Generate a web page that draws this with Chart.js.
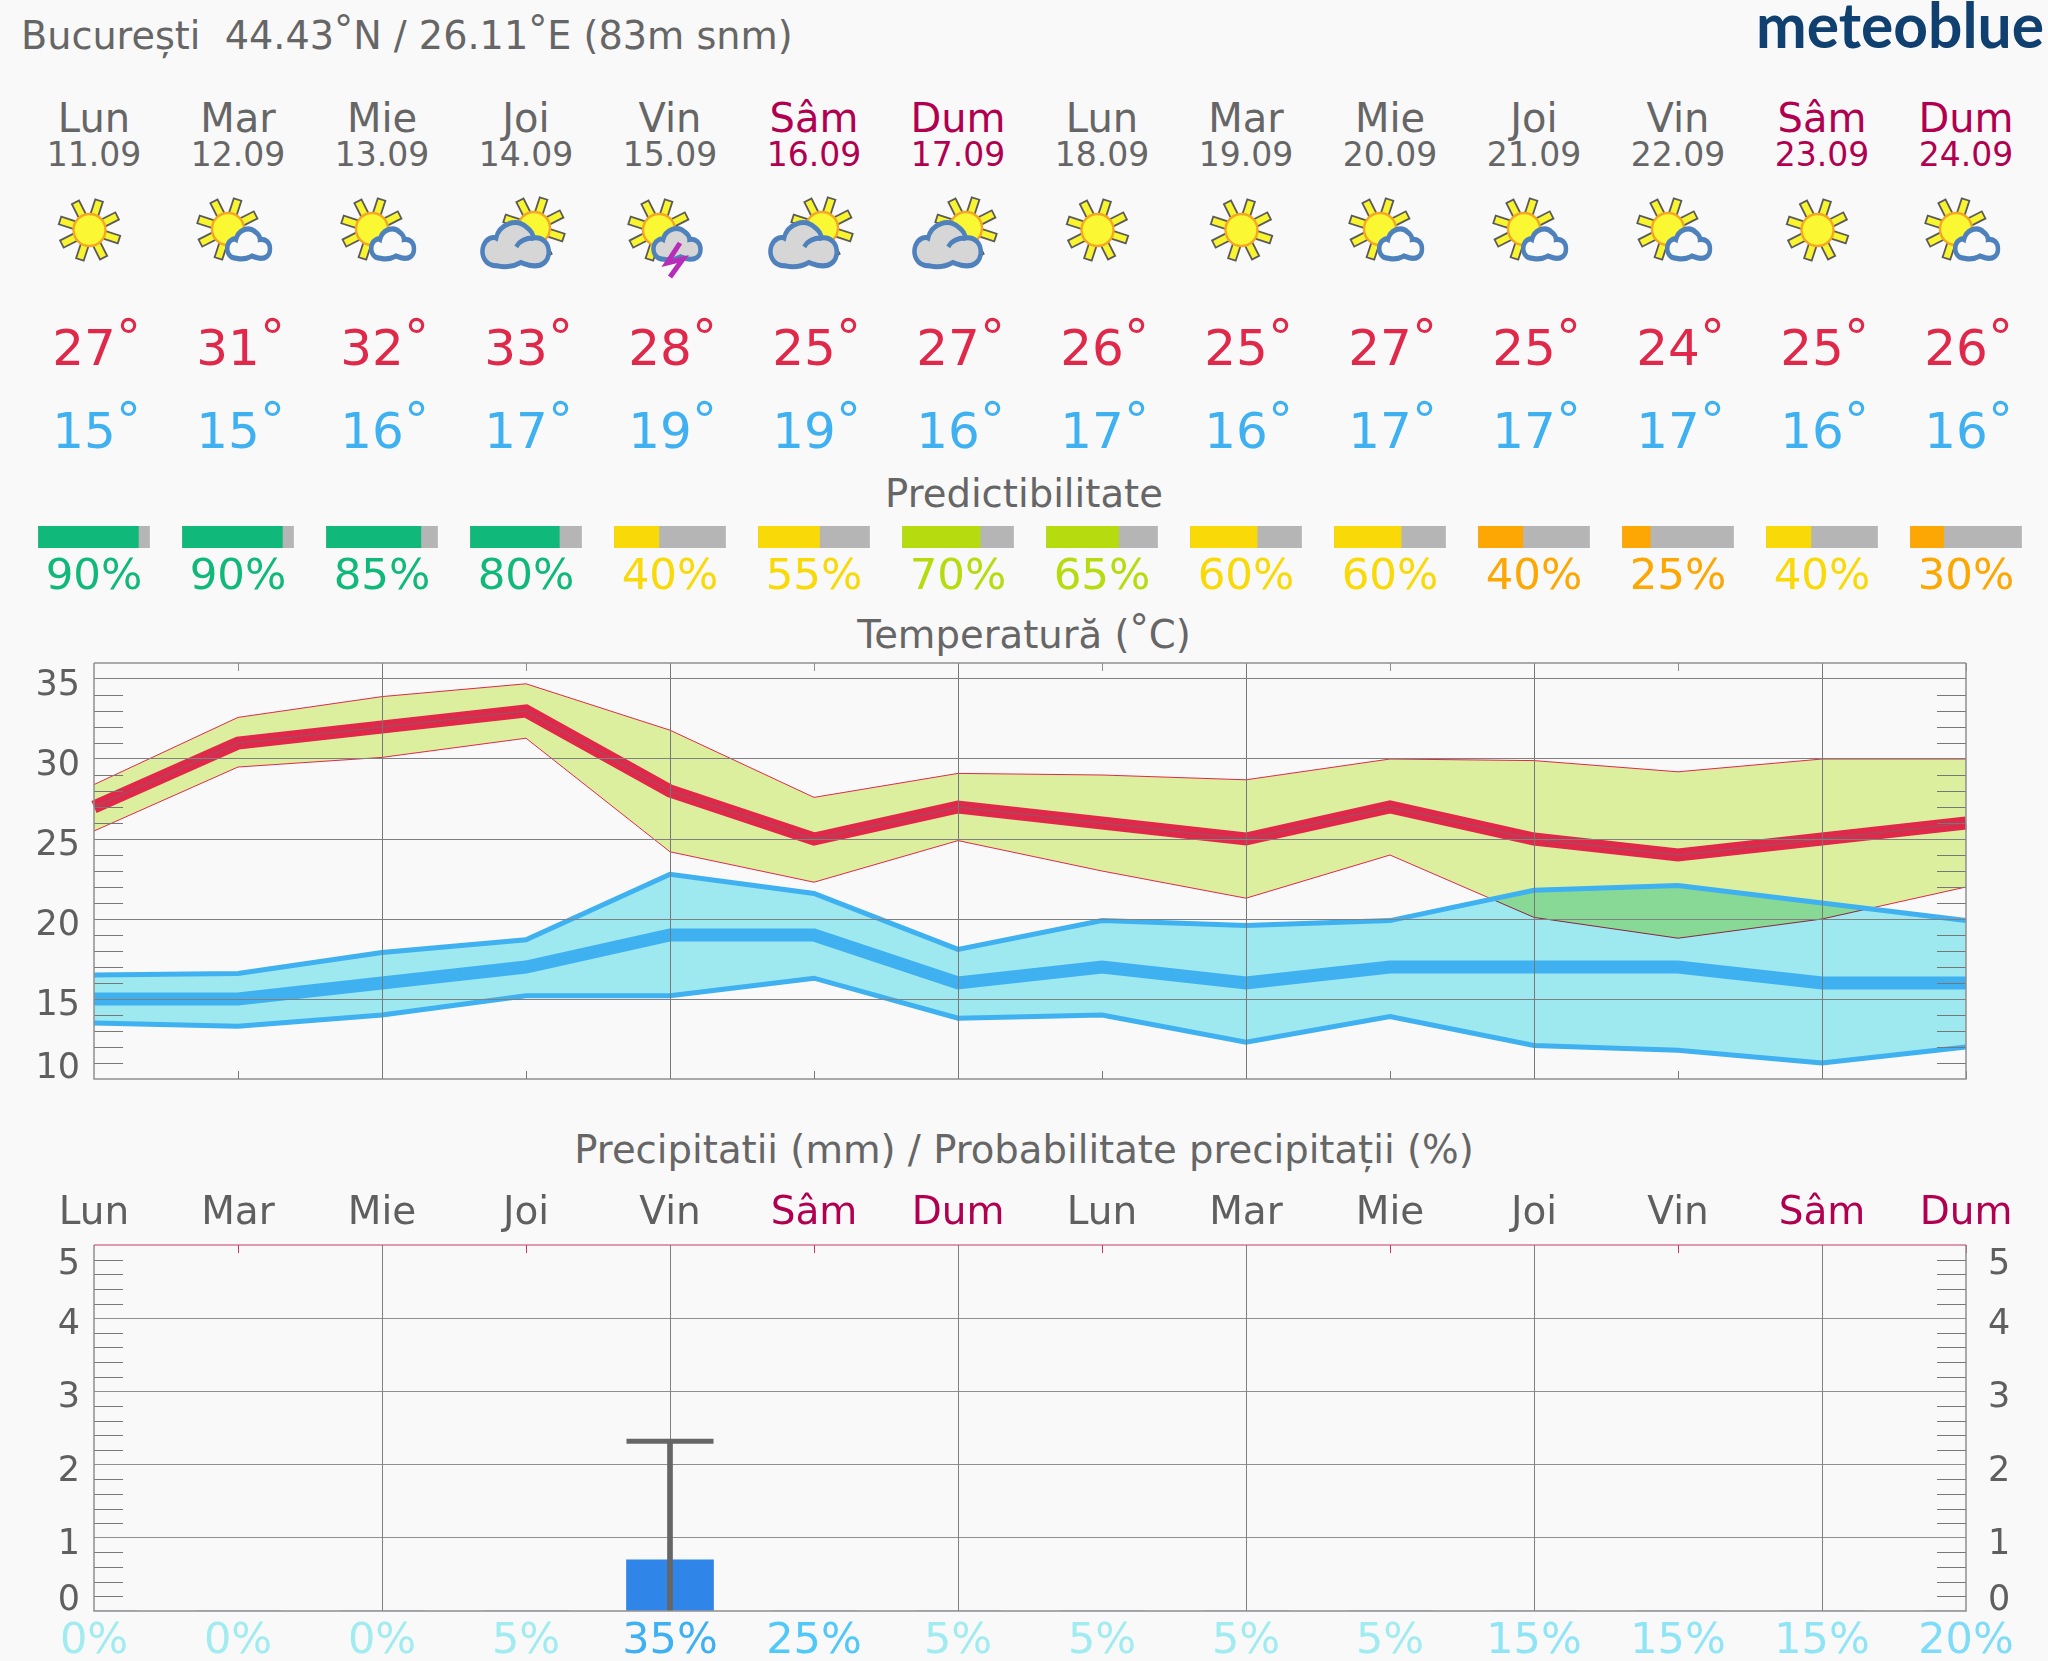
<!DOCTYPE html>
<html>
<head>
<meta charset="utf-8">
<title>București meteogram</title>
<script src="https://cdn.jsdelivr.net/npm/chart.js@4/dist/chart.umd.min.js"></script>
<style>
  html, body { margin: 0; padding: 0; background: #f9f9f9; }
  #page { position: relative; width: 2048px; height: 1661px; overflow: hidden; }
  #page svg, #page canvas { position: absolute; left: 0; }
  #page svg { top: 0; }
  text { font-family: "DejaVu Sans", sans-serif; }
</style>
</head>
<body>
<div id="page">
  <svg id="header" width="2048" height="1661"></svg>
  <canvas id="predictChart" width="2048" height="80" style="top:526px"></canvas>
  <canvas id="tempChart" width="2048" height="460" style="top:640px"></canvas>
  <canvas id="rainChart" width="2048" height="481" style="top:1180px"></canvas>
</div>

<script>
// --------------------------
// data
// --------------------------
const dayNames = ["Lun", "Mar", "Mie", "Joi", "Vin", "Sâm", "Dum", "Lun", "Mar", "Mie", "Joi", "Vin", "Sâm", "Dum"];
const dayDates = ["11.09", "12.09", "13.09", "14.09", "15.09", "16.09", "17.09", "18.09", "19.09", "20.09", "21.09", "22.09", "23.09", "24.09"];
const dayIcons = ["sun", "sunCloud", "sunCloud", "bigCloud", "storm", "bigCloud", "bigCloud", "sun", "sun", "sunCloud", "sunCloud", "sunCloud", "sun", "sunCloud"];

const tempHigh = [27, 31, 32, 33, 28, 25, 27, 26, 25, 27, 25, 24, 25, 26];
const tempLow = [15, 15, 16, 17, 19, 19, 16, 17, 16, 17, 17, 17, 16, 16];

const highUpper = [28.4, 32.6, 33.9, 34.7, 31.8, 27.6, 29.1, 29.0, 28.7, 30.0, 29.9, 29.2, 30.0, 30.0];
const highLower = [25.5, 29.5, 30.1, 31.3, 24.2, 22.3, 24.9, 23.0, 21.3, 24.0, 20.1, 18.8, 20.0, 22.0];
const lowUpper = [16.5, 16.6, 17.9, 18.7, 22.8, 21.6, 18.1, 19.9, 19.6, 19.9, 21.8, 22.1, 21.0, 19.9];
const lowLower = [13.5, 13.3, 14.0, 15.2, 15.2, 16.3, 13.8, 14.0, 12.3, 13.9, 12.1, 11.8, 11.0, 12.0];

const predictability = [90, 90, 85, 80, 40, 55, 70, 65, 60, 60, 40, 25, 40, 30];
const predictGrade = ["green", "green", "green", "green", "yellow", "yellow", "lime", "lime", "yellow", "yellow", "orange", "orange", "yellow", "orange"];

const rainAmount = [0, 0, 0, 0, 0.7, 0, 0, 0, 0, 0, 0, 0, 0, 0];
const rainMax = [null, null, null, null, 2.32, null, null, null, null, null, null, null, null, null];
const rainChance = [0, 0, 0, 5, 35, 25, 5, 5, 5, 5, 15, 15, 15, 20];

// --------------------------
// styles
// --------------------------
const GREY = "#666666";
const RED = "#e0284a";
const BLUE = "#3fb0f0";
const CRIMSON = "#b0004f";
const gradeColors = { green: "#10b97a", yellow: "#f9d908", lime: "#b6dc10", orange: "#fca704" };

const PLOT_LEFT = 94;
const COL_STEP = 144;
const RIGHT_GAP = 82;
const FONT = "'DejaVu Sans', sans-serif";

function isWeekend(i) {
  return i === 5 || i === 6 || i === 12 || i === 13;
}

function colX(i) {
  return PLOT_LEFT + COL_STEP * i;
}

function chanceColor(v) {
  if (v >= 35) return "#3fb0f2";
  if (v >= 25) return "#50c8f8";
  if (v >= 20) return "#7fdcf8";
  if (v >= 15) return "#8fe5f5";
  return "#a2ecf0";
}

// --------------------------
// header svg (text and icons)
// --------------------------
function svgText(str, x, y, size, color, anchor = "middle", extra = "") {
  return `<text x="${x}" y="${y}" font-size="${size}" fill="${color}" text-anchor="${anchor}" ${extra}>${str}</text>`;
}

function degree(dy) {
  return `<tspan dy="${dy}">°</tspan>`;
}

function sunIcon(cx, cy) {
  let rays = "";
  for (let k = 0; k < 8; k++) {
    rays += `<rect x="-4" y="-31" width="8" height="16" fill="#f8f530" stroke="#5a5a5a" stroke-width="1.8" transform="rotate(${18 + k * 45})"/>`;
  }
  return `<g transform="translate(${cx} ${cy})">${rays}<circle r="16" fill="#f9f833" stroke="#f5a623" stroke-width="2.4"/></g>`;
}

function cloudIcon(x, y, scale, fill, hook, stretch = 1.12) {
  const body = "M12 27 C3 27 1 20 3 15 C5 11 9 10 11 11 C13 3 24 -1 31 5 C34 7 35 9 35 11 C41 10 45 14 45 19 C45 25 40 27 36 27 C32 27 30 26 27 25 C23 27 17 28 12 27 Z";
  const inner = hook ? `<path d="M24 16 C26 13 30 11 35 11" fill="none" stroke="#4f82bd" stroke-width="${4.5 / scale}"/>` : "";
  return `<g transform="translate(${x} ${y}) scale(${scale} ${scale * stretch})"><path d="${body}" fill="${fill}" stroke="#4f82bd" stroke-width="${4.5 / scale}"/>${inner}</g>`;
}

function weatherIcon(kind, c) {
  if (kind === "sun") return sunIcon(c - 4.5, 230);
  if (kind === "sunCloud") return sunIcon(c - 10, 229) + cloudIcon(c - 13, 226.5, 1, "#f9f9f9", false, 1.18);
  if (kind === "bigCloud") return sunIcon(c + 8, 228) + cloudIcon(c - 47, 219, 1.55, "#d6d6d6", true);
  // storm
  const bolt = `<path d="M${c + 10} 243 L${c - 3} 263 L${c + 13} 259 L${c} 277" fill="none" stroke="#b82db8" stroke-width="5"/>`;
  return sunIcon(c - 11, 230) + cloudIcon(c - 19, 226, 1.1, "#d6d6d6", false) + bolt;
}

function drawHeader() {
  let out = "";
  out += svgText(`București&#160;&#160;44.43${degree(-6)}<tspan dy="6">N / 26.11</tspan>${degree(-6)}<tspan dy="6">E (83m snm)</tspan>`, 21, 49, 38.2, GREY, "start");
  out += `<text x="1756" y="48" font-size="63" font-weight="700" fill="#0f4070" textLength="288" lengthAdjust="spacingAndGlyphs" style="font-family:Lato,sans-serif">meteoblue</text>`;

  dayNames.forEach((name, i) => {
    const c = colX(i);
    const color = isWeekend(i) ? CRIMSON : GREY;
    out += svgText(name, c, 132, 40, color);
    out += svgText(dayDates[i], c, 166, 33, color);
    out += weatherIcon(dayIcons[i], c);
    out += svgText(`${tempHigh[i]}${degree(-10)}`, c + 2.6, 365, 50, RED);
    out += svgText(`${tempLow[i]}${degree(-10)}`, c + 2.6, 448, 50, BLUE);
  });

  out += svgText("Predictibilitate", 1024, 507, 38.6, GREY);
  out += svgText(`Temperatură (${degree(-6)}<tspan dy="6">C)</tspan>`, 1024, 648, 38.6, GREY);
  out += svgText("Precipitatii (mm) / Probabilitate precipitații (%)", 1024, 1163, 38.6, GREY);

  document.getElementById("header").innerHTML = out;
}

// --------------------------
// chart helpers
// --------------------------

// tick labels must not push the plot area in
function noScalePadding(s) {
  s.paddingTop = 0;
  s.paddingBottom = 0;
  s.paddingLeft = 0;
  s.paddingRight = 0;
}

// box, small ticks inside the plot, and the nudged y labels
function panelPlugin(cfg) {
  return {
    id: "panel",
    beforeDraw(chart) {
      Object.values(chart.scales).forEach(scale => {
        if (scale.axis !== "y") return;
        scale.getLabelItems().forEach(item => {
          item.options.translation[1] += cfg.labelShift(Number(item.label));
        });
      });
    },
    afterDatasetDraw(chart, args) {
      if (cfg.multiplyBefore === args.meta.label) chart.ctx.globalCompositeOperation = "multiply";
    },
    beforeDatasetDraw(chart) {
      // runs after the filler has painted this dataset's band
      chart.ctx.globalCompositeOperation = "source-over";
    },
    afterDraw(chart) {
      const { ctx, chartArea: a, scales } = chart;
      ctx.save();
      ctx.lineWidth = 1;
      ctx.strokeStyle = "#777777";
      ctx.beginPath();
      cfg.minorValues.forEach(v => {
        const y = Math.round(scales.y.getPixelForValue(v)) + 0.5;
        ctx.moveTo(a.left, y);
        ctx.lineTo(a.left + 29, y);
        ctx.moveTo(a.right - 29, y);
        ctx.lineTo(a.right, y);
      });
      ctx.stroke();

      ctx.beginPath();
      ctx.strokeStyle = cfg.topColor;
      dayNames.forEach((_, i) => {
        if (i % 2 === 0) return;
        const x = Math.round(scales.x.getPixelForValue(i)) + 0.5;
        ctx.moveTo(x, a.top);
        ctx.lineTo(x, a.top + 8);
      });
      ctx.stroke();

      if (cfg.bottomTicks) {
        ctx.beginPath();
        ctx.strokeStyle = "#777777";
        dayNames.forEach((_, i) => {
          if (i % 2 === 0) return;
          const x = Math.round(scales.x.getPixelForValue(i)) + 0.5;
          ctx.moveTo(x, a.bottom);
          ctx.lineTo(x, a.bottom - 8);
        });
        ctx.stroke();
      }

      // frame
      ctx.lineWidth = 1.5;
      ctx.strokeStyle = "#8f8f8f";
      ctx.beginPath();
      ctx.moveTo(a.left, a.top);
      ctx.lineTo(a.left, a.bottom);
      ctx.lineTo(a.right, a.bottom);
      ctx.lineTo(a.right, a.top);
      ctx.stroke();
      ctx.lineWidth = cfg.topWidth;
      ctx.strokeStyle = cfg.topColor;
      ctx.beginPath();
      ctx.moveTo(a.left, a.top);
      ctx.lineTo(a.right, a.top);
      ctx.stroke();
      ctx.restore();
    }
  };
}

function gridX(color, z) {
  return {
    z,
    offset: false,
    drawTicks: false,
    lineWidth: 1,
    color: c => (c.index > 0 && c.index < 13 && c.index % 2 === 0 ? color : "transparent")
  };
}

function commonOptions(padding) {
  return {
    responsive: false,
    animation: false,
    events: [],
    layout: { padding },
    plugins: { legend: { display: false }, tooltip: { enabled: false }, title: { display: false } }
  };
}

// --------------------------
// predictability bars
// --------------------------
function createPredictChart() {
  const halfBar = 55.5 / COL_STEP;
  const fullBars = predictability.map((p, i) => ({ x: [i - halfBar, i + halfBar], y: "p" }));
  const gradeBars = predictability.map((p, i) => ({ x: [i - halfBar, i - halfBar + 2 * halfBar * p / 100], y: "p" }));

  new Chart(document.getElementById("predictChart").getContext("2d"), {
    type: "bar",
    data: {
      labels: ["p"],
      datasets: [
        { data: gradeBars, backgroundColor: predictGrade.map(g => gradeColors[g]), barThickness: 22, grouped: false, order: 0 },
        { data: fullBars, backgroundColor: "#b5b5b5", barThickness: 22, grouped: false, order: 1 }
      ]
    },
    options: {
      ...commonOptions(0),
      indexAxis: "y",
      scales: {
        x: {
          type: "linear",
          min: -PLOT_LEFT / COL_STEP,
          max: 13 + RIGHT_GAP / COL_STEP,
          grid: { display: false },
          border: { display: false },
          afterFit: s => { s.height = 58; noScalePadding(s); },
          ticks: {
            stepSize: 1,
            includeBounds: false,
            autoSkip: false,
            maxRotation: 0,
            padding: -4,
            font: { family: FONT, size: 43.5 },
            color: c => gradeColors[predictGrade[c.tick.value]],
            callback: v => predictability[v] + "%"
          }
        },
        y: { display: false }
      }
    }
  });
}

// --------------------------
// temperature
// --------------------------
function createTempChart() {
  const thin = (label, data, color, width, order, fill) => ({
    label, data, order,
    borderColor: color,
    borderWidth: width,
    borderJoinStyle: "miter",
    pointRadius: 0,
    tension: 0,
    fill: fill || false
  });

  const minors = [];
  for (let v = 11; v < 36; v++) if (v % 5 !== 0) minors.push(v);

  new Chart(document.getElementById("tempChart").getContext("2d"), {
    type: "line",
    data: {
      labels: dayDates,
      datasets: [
        thin("highUpper", highUpper, RED, 1, 9, { target: 1, above: "#dbef9f", below: "#dbef9f" }),
        thin("highLower", highLower, RED, 1, 8),
        thin("lowUpper", lowUpper, BLUE, 5, 7, { target: 3, above: "#9ee8ef", below: "#9ee8ef" }),
        thin("lowLower", lowLower, BLUE, 5, 6),
        thin("lowMean", tempLow, BLUE, 13, 5),
        thin("highMean", tempHigh, RED, 13, 4),
        thin("highCore", tempHigh, "#8a5a66", 1, 3)
      ]
    },
    options: {
      ...commonOptions({ top: 23, right: RIGHT_GAP, bottom: 21 }),
      scales: {
        x: {
          offset: false,
          grid: gridX("#777777", 1),
          border: { display: false },
          afterFit: noScalePadding,
          ticks: { display: false }
        },
        y: {
          min: 10,
          max: 36,
          afterFit: s => { s.width = PLOT_LEFT; noScalePadding(s); },
          border: { display: false },
          grid: { z: 1, drawTicks: false, lineWidth: 1, color: c => (c.tick.value === 10 ? "transparent" : "#808080") },
          ticks: {
            stepSize: 5,
            includeBounds: false,
            padding: 14,
            font: { family: FONT, size: 35 },
            color: "#5f5f5f"
          }
        }
      }
    },
    plugins: [panelPlugin({
      minorValues: minors,
      topColor: "#8f8f8f",
      topWidth: 1.5,
      bottomTicks: true,
      multiplyBefore: "highLower",
      labelShift: v => (v === 10 ? -10 : 7)
    })]
  });
}

// --------------------------
// precipitation
// --------------------------
function createRainChart() {
  const minors = [];
  for (let v = 1; v < 25; v++) if (v % 5 !== 0) minors.push(v / 5);

  const rainY = {
    min: 0,
    max: 5,
    border: { display: false },
    ticks: {
      stepSize: 1,
      padding: 14,
      font: { family: FONT, size: 35 },
      color: "#5f5f5f"
    }
  };

  new Chart(document.getElementById("rainChart").getContext("2d"), {
    data: {
      labels: dayNames,
      datasets: [
        { type: "bar", data: rainAmount, backgroundColor: "#2f86e8", barThickness: 87, grouped: false, order: 3 },
        { type: "bar", data: rainMax, backgroundColor: GREY, barThickness: 5, grouped: false, order: 2 },
        {
          type: "line", data: rainMax, showLine: false, order: 1,
          pointStyle: "line", pointRadius: 43.5, pointBorderWidth: 5, pointBorderColor: GREY
        }
      ]
    },
    options: {
      ...commonOptions({ top: 0, right: 0, bottom: 0 }),
      scales: {
        x: {
          offset: false,
          position: "bottom",
          grid: gridX("#808080", 0),
          border: { display: false },
          afterFit: s => { s.height = 50; noScalePadding(s); },
          ticks: {
            autoSkip: false,
            maxRotation: 0,
            padding: 5,
            font: { family: FONT, size: 43 },
            color: c => chanceColor(rainChance[c.index]),
            callback: (v, i) => rainChance[i] + "%"
          }
        },
        xTop: {
          type: "category",
          axis: "x",
          labels: dayNames,
          offset: false,
          position: "top",
          grid: { display: false },
          border: { display: false },
          afterFit: s => { s.height = 65; noScalePadding(s); },
          ticks: {
            autoSkip: false,
            maxRotation: 0,
            padding: 0,
            font: { family: FONT, size: 39 },
            color: c => (isWeekend(c.index) ? CRIMSON : "#5f5f5f")
          }
        },
        y: {
          ...rainY,
          position: "left",
          afterFit: s => { s.width = PLOT_LEFT; noScalePadding(s); },
          grid: { drawTicks: false, lineWidth: 1, color: c => (c.tick.value === 0 || c.tick.value === 5 ? "transparent" : "#8f8f8f") }
        },
        yRight: {
          ...rainY,
          position: "right",
          afterFit: s => { s.width = RIGHT_GAP; noScalePadding(s); },
          grid: { display: false }
        }
      }
    },
    plugins: [panelPlugin({
      minorValues: minors,
      topColor: "#c23a6a",
      topWidth: 1,
      bottomTicks: false,
      multiplyBefore: null,
      labelShift: v => (v === 5 ? 20 : v === 0 ? -10 : 7)
    })]
  });
}

// --------------------------
// main
// --------------------------
drawHeader();
createPredictChart();
createTempChart();
createRainChart();
</script>
</body>
</html>
